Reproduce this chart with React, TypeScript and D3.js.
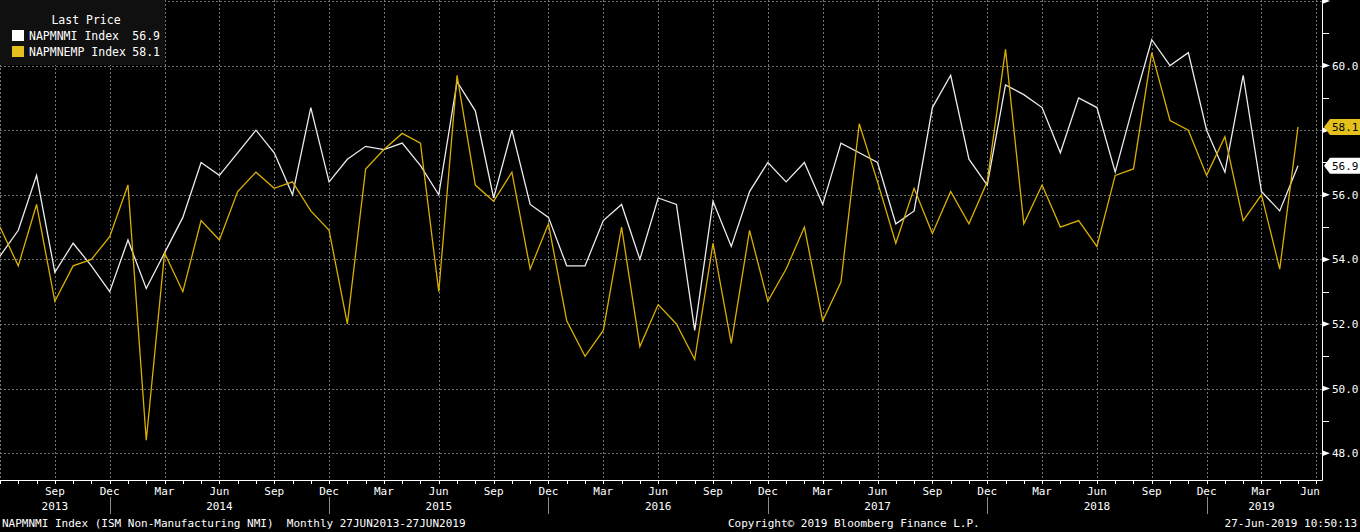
import React, { useEffect, useRef } from 'react';
import * as d3 from 'd3';

const width = 1360;
const height = 532;
const plotRight = 1322;
const plotBottom = 480;

// monthly points, Jun 2013 .. May 2019
const startMonth = new Date(2013, 5, 1);
const nmi = [
  54.1, 54.9, 56.6, 53.6, 54.5, 53.8, 53.0, 54.6, 53.1, 54.2, 55.3, 57.0,
  56.6, 57.3, 58.0, 57.3, 56.0, 58.7, 56.4, 57.1, 57.5, 57.4, 57.6, 56.9,
  56.0, 59.5, 58.6, 55.9, 58.0, 55.7, 55.3, 53.8, 53.8, 55.2, 55.7, 54.0,
  55.9, 55.7, 51.8, 55.8, 54.4, 56.1, 57.0, 56.4, 57.0, 55.7, 57.6, 57.3,
  57.0, 55.1, 55.5, 58.7, 59.7, 57.1, 56.3, 59.4, 59.1, 58.7, 57.3, 59.0,
  58.7, 56.7, 58.8, 60.8, 60.0, 60.4, 58.0, 56.7, 59.7, 56.1, 55.5, 56.9,
];
const nmiEmp = [
  55.0, 53.8, 55.7, 52.7, 53.8, 54.0, 54.7, 56.3, 48.4, 54.2, 53.0, 55.2,
  54.6, 56.1, 56.7, 56.2, 56.4, 55.5, 54.9, 52.0, 56.8, 57.4, 57.9, 57.6,
  53.0, 59.7, 56.3, 55.8, 56.7, 53.7, 55.1, 52.1, 51.0, 51.8, 55.0, 51.3,
  52.6, 52.0, 50.9, 54.5, 51.4, 54.9, 52.7, 53.7, 55.0, 52.1, 53.3, 58.2,
  56.4, 54.5, 56.2, 54.8, 56.1, 55.1, 56.4, 60.5, 55.1, 56.3, 55.0, 55.2,
  54.4, 56.6, 56.8, 60.4, 58.3, 58.0, 56.6, 57.8, 55.2, 56.0, 53.7, 58.1,
];
const yTicks = [48, 50, 52, 54, 56, 58, 60, 62];
const yMinor = [49, 51, 53, 55, 57, 59, 61];
const series = [
  { name: 'NAPMNMI Index', values: nmi, color: '#ececec', swatch: '#ffffff', tagText: '#000' },
  { name: 'NAPMNEMP Index', values: nmiEmp, color: '#d9b000', swatch: '#e3c01c', tagText: '#000' },
];
const footLeft = 'NAPMNMI Index (ISM Non-Manufacturing NMI)  Monthly 27JUN2013-27JUN2019';
const footMid = 'Copyright\u00a9 2019 Bloomberg Finance L.P.';
const footRight = '27-Jun-2019 10:50:13';

const font = '"DejaVu Sans Mono", monospace';

const App: React.FC = () => {
  const ref = useRef<SVGSVGElement>(null);

  useEffect(() => {
    if (!ref.current) return;
    const svg = d3.select(ref.current);
    svg.selectAll('*').remove();

    const months = d3.timeMonth.range(startMonth, d3.timeMonth.offset(startMonth, 73));
    const x = d3.scaleLinear().domain([0, 72]).range([0, 1316.3]);
    const y = d3.scaleLinear().domain([47.17, 62.03]).range([plotBottom, 0]);

    svg.append('rect').attr('width', width).attr('height', height).attr('fill', '#000');

    // grid
    const grid = svg.append('g').attr('stroke', '#727272').attr('stroke-dasharray', '2,2').attr('stroke-width', 1);
    yTicks.forEach(v => {
      grid.append('line').attr('x1', 0).attr('x2', plotRight).attr('y1', Math.round(y(v)) + 0.5).attr('y2', Math.round(y(v)) + 0.5);
    });
    months.forEach((m, i) => {
      if (m.getMonth() % 3 !== 2) return;
      const xx = Math.round(x(i)) + 0.5;
      grid.append('line').attr('x1', xx).attr('x2', xx).attr('y1', 0).attr('y2', plotBottom);
    });

    // lines
    const line = d3
      .line<number>()
      .x((_, i) => x(i))
      .y(d => y(d));
    series.forEach(s => {
      svg.append('path').attr('d', line(s.values)).attr('fill', 'none').attr('stroke', s.color).attr('stroke-width', 1.3);
    });

    // axes
    svg.append('line').attr('x1', 0).attr('x2', plotRight + 0.5).attr('y1', plotBottom + 0.5).attr('y2', plotBottom + 0.5).attr('stroke', '#fff');
    svg.append('line').attr('x1', plotRight + 0.5).attr('x2', plotRight + 0.5).attr('y1', 0).attr('y2', plotBottom + 0.5).attr('stroke', '#fff');

    months.forEach((m, i) => {
      const xx = Math.round(x(i)) + 0.5;
      svg.append('line').attr('x1', xx).attr('x2', xx).attr('y1', plotBottom).attr('y2', plotBottom + 4).attr('stroke', '#fff');
      if (m.getMonth() % 3 === 2 && i > 0) {
        const last = i === months.length - 1;
        svg
          .append('text')
          .attr('x', last ? plotRight - 2 : x(i))
          .attr('y', 495)
          .attr('text-anchor', last ? 'end' : 'middle')
          .attr('fill', '#fff')
          .attr('font-family', font)
          .attr('font-size', 11)
          .text(d3.timeFormat('%b')(m));
      }
    });

    // years
    const years = d3.range(2013, 2020);
    years.forEach(yr => {
      const a = months.findIndex(m => m.getFullYear() === yr && m.getMonth() === 11);
      const b = months.findIndex(m => m.getFullYear() === yr - 1 && m.getMonth() === 11);
      const left = b < 0 ? 0 : b;
      const right = a < 0 ? 72 : a;
      svg
        .append('text')
        .attr('x', x((left + right) / 2))
        .attr('y', 510)
        .attr('text-anchor', 'middle')
        .attr('fill', '#fff')
        .attr('font-family', font)
        .attr('font-size', 11)
        .text(yr);
      if (a >= 0) {
        const xx = Math.round(x(a)) + 0.5;
        svg.append('line').attr('x1', xx).attr('x2', xx).attr('y1', 497).attr('y2', 514).attr('stroke', '#8a8a8a');
      }
    });

    // y axis (labels hidden under the last-value tags, as in the terminal)
    const tagYs = series.map(s => y(s.values[s.values.length - 1]));
    yTicks.forEach(v => {
      const yy = y(v);
      svg
        .append('path')
        .attr('d', `M${plotRight},${yy - 3}L${plotRight + 8},${yy}L${plotRight},${yy + 3}Z`)
        .attr('fill', '#fff');
      const covered = tagYs.some(t => Math.abs(t - yy) < 14);
      if (v < 62 && !covered) {
        svg
          .append('text')
          .attr('x', plotRight + 10)
          .attr('y', yy + 4)
          .attr('fill', '#fff')
          .attr('font-family', font)
          .attr('font-size', 11)
          .text(v.toFixed(1));
      }
    });
    yMinor.forEach(v => {
      svg.append('line').attr('x1', plotRight).attr('x2', plotRight + 7).attr('y1', Math.round(y(v)) + 0.5).attr('y2', Math.round(y(v)) + 0.5).attr('stroke', '#fff');
    });

    // last value tags
    series.forEach(s => {
      const v = s.values[s.values.length - 1];
      const yy = y(v);
      svg
        .append('path')
        .attr('d', `M${plotRight + 2},${yy}L${plotRight + 8},${yy - 8}L${width},${yy - 8}L${width},${yy + 8}L${plotRight + 8},${yy + 8}Z`)
        .attr('fill', s.swatch);
      svg
        .append('text')
        .attr('x', plotRight + 10)
        .attr('y', yy + 4)
        .attr('fill', s.tagText)
        .attr('font-family', font)
        .attr('font-size', 11)
        .text(v.toFixed(1));
    });

    // legend
    const lg = svg.append('g');
    lg.append('rect').attr('x', 0).attr('y', 0).attr('width', 165).attr('height', 65).attr('fill', '#101010');
    lg.append('text')
      .attr('x', 86)
      .attr('y', 24)
      .attr('text-anchor', 'middle')
      .attr('fill', '#fff')
      .attr('font-family', font)
      .attr('font-size', 11.5)
      .text('Last Price');
    series.forEach((s, i) => {
      const cy = 36 + i * 16;
      lg.append('rect').attr('x', 12).attr('y', cy - 6).attr('width', 12).attr('height', 11).attr('fill', s.swatch);
      lg.append('text')
        .attr('x', 29)
        .attr('y', cy + 4)
        .attr('fill', '#fff')
        .attr('font-family', font)
        .attr('font-size', 11.5)
        .text(s.name);
      lg.append('text')
        .attr('x', 160)
        .attr('y', cy + 4)
        .attr('text-anchor', 'end')
        .attr('fill', '#fff')
        .attr('font-family', font)
        .attr('font-size', 11.5)
        .text(s.values[s.values.length - 1].toFixed(1));
    });

    // footer
    const foot = [
      { t: footLeft, x: 2, anchor: 'start' },
      { t: footMid, x: 728, anchor: 'start' },
      { t: footRight, x: 1357, anchor: 'end' },
    ];
    foot.forEach(f => {
      svg
        .append('text')
        .attr('x', f.x)
        .attr('y', 527)
        .attr('text-anchor', f.anchor)
        .attr('fill', '#fff')
        .attr('font-family', font)
        .attr('font-size', 11)
        .style('white-space', 'pre')
        .text(f.t);
    });
  }, []);

  return (
    <svg
      ref={ref}
      width={width}
      height={height}
      style={{ position: 'absolute', left: 0, top: 0, display: 'block', background: '#000' }}
    />
  );
};

export default App;
